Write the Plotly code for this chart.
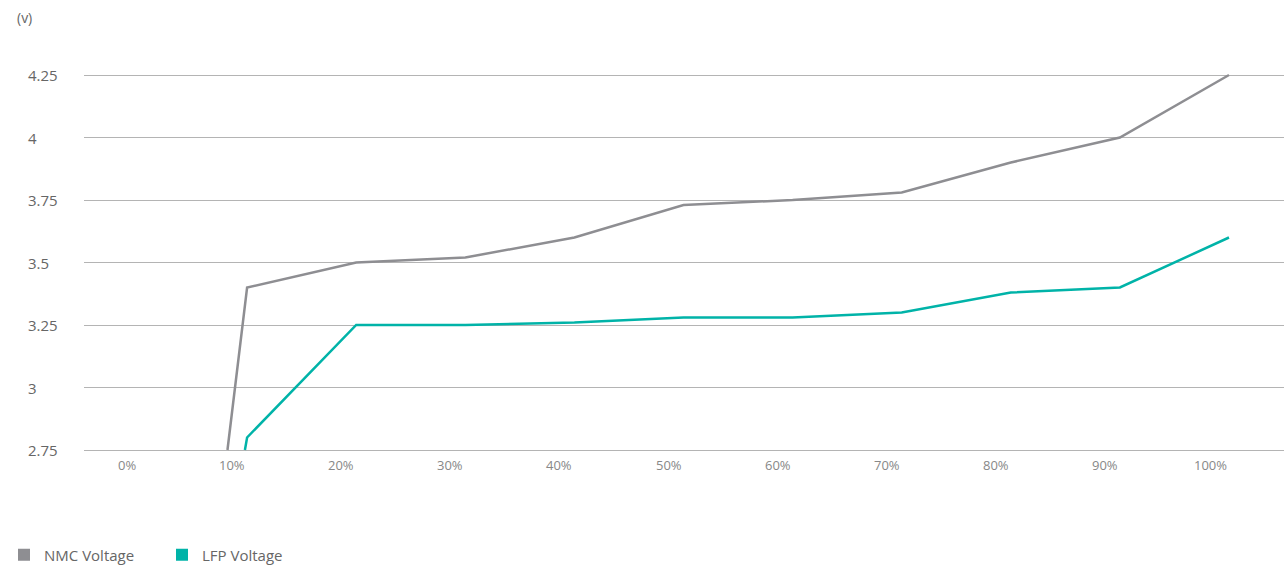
import plotly.graph_objects as go

# Data
soc_nmc = [8.2, 10, 20, 30, 40, 50, 60, 70, 80, 90, 100]
nmc_voltage = [2.75, 3.40, 3.50, 3.52, 3.60, 3.73, 3.75, 3.78, 3.90, 4.00, 4.25]
soc_lfp = [9.8, 10, 20, 30, 40, 50, 60, 70, 80, 90, 100]
lfp_voltage = [2.75, 2.80, 3.25, 3.25, 3.26, 3.28, 3.28, 3.30, 3.38, 3.40, 3.60]
x_tickvals = [0, 10, 20, 30, 40, 50, 60, 70, 80, 90, 100]
x_ticklabels = ["0%", "10%", "20%", "30%", "40%", "50%", "60%", "70%", "80%", "90%", "100%"]
y_tickvals = [2.75, 3, 3.25, 3.5, 3.75, 4, 4.25]
y_ticklabels = ["2.75", "3", "3.25", "3.5", "3.75", "4", "4.25"]

GREY = "#8e8e92"
TEAL = "#00b3a8"
FONT = "Open Sans"

W, H = 1288, 565
ML, MR, MT, MB = 84, 4, 70, 110
PW, PH = W - ML - MR, H - MT - MB

fig = go.Figure()
fig.add_trace(go.Scatter(x=soc_nmc, y=nmc_voltage, mode="lines",
                         line=dict(color=GREY, width=2.5), showlegend=False,
                         name="NMC Voltage"))
fig.add_trace(go.Scatter(x=soc_lfp, y=lfp_voltage, mode="lines",
                         line=dict(color=TEAL, width=2.5), showlegend=False,
                         name="LFP Voltage"))
# legend entries with square markers
fig.add_trace(go.Scatter(x=[None], y=[None], mode="markers", name="NMC Voltage",
                         marker=dict(symbol="square", size=12, color=GREY)))
fig.add_trace(go.Scatter(x=[None], y=[None], mode="markers", name="LFP Voltage",
                         marker=dict(symbol="square", size=12, color=TEAL)))

annotations = []
for v, t in zip(x_tickvals, x_ticklabels):
    annotations.append(dict(x=v, y=-(465 - (H - MB)) / PH, xref="x", yref="paper",
                            text=t, showarrow=False, xanchor="right", yanchor="middle",
                            font=dict(family=FONT, size=13, color="#888888")))
for v, t in zip(y_tickvals, y_ticklabels):
    annotations.append(dict(x=(26 - ML) / PW, y=v, xref="paper", yref="y",
                            text=t, showarrow=False, xanchor="left", yanchor="middle",
                            font=dict(family=FONT, size=15, color="#666666")))
annotations.append(dict(x=(15 - ML) / PW, y=(H - MB - 17) / PH, xref="paper", yref="paper",
                        text="(v)", showarrow=False, xanchor="left", yanchor="middle",
                        font=dict(family=FONT, size=14, color="#666666")))

px_per = (1229 - 138) / 100.0
x0 = (ML - 138) / px_per
x1 = (W - MR - 138) / px_per
v_per_px = 1.5 / 375
y_lo = 2.75 - (H - MB - 450) * v_per_px
y_hi = 4.25 + (75 - MT) * v_per_px

fig.update_layout(
    width=W, height=H,
    margin=dict(l=ML, r=MR, t=MT, b=MB),
    plot_bgcolor="white", paper_bgcolor="white",
    font=dict(family=FONT, color="#666666"),
    xaxis=dict(range=[x0, x1], showgrid=False, zeroline=False, showticklabels=False,
               showline=False, ticks=""),
    yaxis=dict(range=[y_lo, y_hi], tickvals=y_tickvals, showticklabels=False,
               showgrid=True, gridcolor="#b4b4b4", gridwidth=1.3, zeroline=False, ticks=""),
    legend=dict(orientation="h", xref="container", x=4 / W, xanchor="left",
                yref="container", y=(H - 555) / H, yanchor="middle",
                font=dict(family=FONT, size=15, color="#666666"),
                entrywidth=113, entrywidthmode="pixels",
                itemclick=False),
    annotations=annotations,
)

fig.write_html("out.html", config={"displayModeBar": False},
               post_script="document.body.style.margin='0';")
